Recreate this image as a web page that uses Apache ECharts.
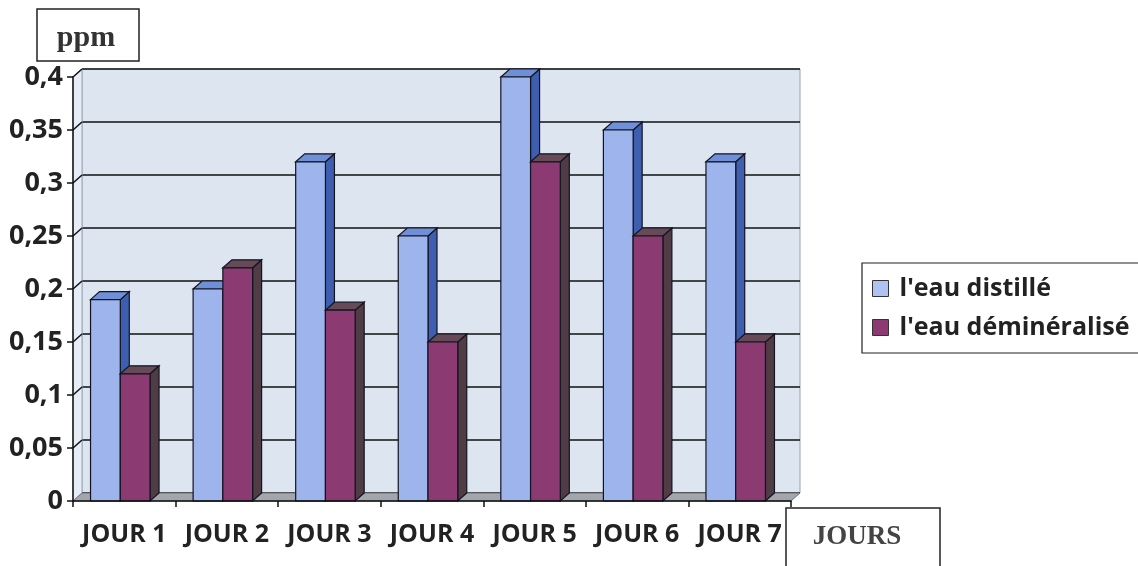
<!DOCTYPE html>
<html>
<head>
<meta charset="utf-8">
<script src="https://cdn.jsdelivr.net/npm/echarts@6/dist/echarts.min.js"></script>
<style>
  html, body { margin: 0; padding: 0; background: #ffffff; }
  #chart { width: 1138px; height: 566px; }
</style>
</head>
<body>
<div id="chart"></div>
<script>
// Daily readings (ppm)
const categories = ['JOUR 1', 'JOUR 2', 'JOUR 3', 'JOUR 4', 'JOUR 5', 'JOUR 6', 'JOUR 7'];
const distille = [0.19, 0.20, 0.32, 0.25, 0.40, 0.35, 0.32];
const demineralise = [0.12, 0.22, 0.18, 0.15, 0.32, 0.25, 0.15];
const seriesNames = ["l'eau distillé", "l'eau déminéralisé"];
const yTicks = [0, 0.05, 0.1, 0.15, 0.2, 0.25, 0.3, 0.35, 0.4];

// depth offset of the pseudo-3D box
const DX = 9, DY = -8;

const palette = [
  { front: '#9db5ec', side: '#3e5fb0', top: '#6f8fd8' },
  { front: '#8b3a72', side: '#4f3c45', top: '#674a57' }
];

const LABEL_FONT = { fontFamily: 'Open Sans', fontWeight: 'bold', fontSize: 25, color: '#222' };

function barRenderer(sIdx) {
  return function (params, api) {
    const cat = api.value(0), v = api.value(1);
    const base = api.coord([cat, 0]);
    const top = api.coord([cat, v]);
    const bw = api.size([1, 0])[0] * 0.29;
    const x0 = sIdx === 0 ? base[0] - bw - 4 : base[0] - 4;
    const x1 = x0 + bw;
    const yT = top[1], yB = base[1];
    const c = palette[sIdx];
    const stroke = { stroke: '#141420', lineWidth: 1.2 };
    return {
      type: 'group',
      children: [
        { type: 'polygon', shape: { points: [[x1, yT], [x1 + DX, yT + DY], [x1 + DX, yB + DY], [x1, yB]] },
          style: Object.assign({ fill: c.side }, stroke) },
        { type: 'polygon', shape: { points: [[x0, yT], [x0 + DX, yT + DY], [x1 + DX, yT + DY], [x1, yT]] },
          style: Object.assign({ fill: c.top }, stroke) },
        { type: 'rect', shape: { x: x0, y: yT, width: bw, height: yB - yT },
          style: Object.assign({ fill: c.front }, stroke) }
      ]
    };
  };
}

// floor and left side wall of the box
function boxRenderer(params, api) {
  const cs = params.coordSys;
  const xl = cs.x, xr = cs.x + cs.width, yb = cs.y + cs.height, yt = cs.y;
  const children = [
    { type: 'polygon', shape: { points: [[xl, yb], [xl, yt], [xl + DX, yt + DY], [xl + DX, yb + DY]] },
      style: { fill: '#e6edf6', stroke: '#9aa6b8', lineWidth: 1 } },
    { type: 'polygon', shape: { points: [[xl, yb], [xl + DX, yb + DY], [xr + DX, yb + DY], [xr, yb]] },
      style: { fill: '#a3a7ad', stroke: '#6f747a', lineWidth: 1 } }
  ];
  yTicks.forEach(function (t) {
    if (t === 0) return;
    const p = api.coord([0, t]);
    children.push({ type: 'line', shape: { x1: xl, y1: p[1], x2: xl + DX, y2: p[1] + DY },
      style: { stroke: '#111', lineWidth: 1.5 } });
  });
  return { type: 'group', children: children };
}

const chart = echarts.init(document.getElementById('chart'));
chart.setOption({
  animation: false,
  backgroundColor: '#ffffff',
  grid: [
    { left: 73, right: 347, top: 77, bottom: 65 },
    { left: 82, right: 338, top: 69, bottom: 73, show: true,
      backgroundColor: '#dce5f0', borderColor: '#98a3b4', borderWidth: 1, z: 0 }
  ],
  xAxis: [
    { type: 'category', gridIndex: 0, data: categories,
      axisLine: { lineStyle: { color: '#111', width: 1.5 } },
      axisTick: { show: true, length: 6, lineStyle: { color: '#111', width: 1.5 } },
      axisLabel: Object.assign({ margin: 21, interval: 0 }, LABEL_FONT),
      splitLine: { show: false }, z: 5 },
    { type: 'category', gridIndex: 1, data: categories, show: false }
  ],
  yAxis: [
    { type: 'value', gridIndex: 0, min: 0, max: 0.4, interval: 0.05,
      axisLine: { show: true, lineStyle: { color: '#111', width: 1.5 } },
      axisTick: { show: true, length: 6, lineStyle: { color: '#111', width: 1.5 } },
      axisLabel: Object.assign({ margin: 10, formatter: function (v) { return String(+v.toFixed(2)).replace('.', ','); } }, LABEL_FONT, { fontSize: 27 }),
      splitLine: { show: false }, z: 5 },
    { type: 'value', gridIndex: 1, min: 0, max: 0.4, interval: 0.05,
      axisLine: { show: false }, axisTick: { show: false }, axisLabel: { show: false },
      splitLine: { show: true, lineStyle: { color: '#111', width: 1.5 } } }
  ],
  legend: {
    orient: 'vertical', left: 862, top: 263,
    borderColor: '#222', borderWidth: 1.2, padding: [13, 14, 13, 10],
    itemWidth: 16, itemHeight: 16, itemGap: 14,
    textStyle: { fontFamily: 'Open Sans', fontWeight: 'bold', fontSize: 25, color: '#222', padding: [0, 0, 0, 6] },
    data: [
      { name: seriesNames[0], icon: 'rect', itemStyle: { color: '#aec3f2', borderColor: '#333', borderWidth: 1 } },
      { name: seriesNames[1], icon: 'rect', itemStyle: { color: '#8e3a72', borderColor: '#333', borderWidth: 1 } }
    ]
  },
  graphic: [
    { type: 'rect', shape: { x: 37, y: 9, width: 102, height: 52 },
      style: { fill: '#fff', stroke: '#222', lineWidth: 1.5 } },
    { type: 'text', x: 86, y: 38,
      style: { text: 'ppm', fontFamily: 'Liberation Serif', fontWeight: 'bold', fontSize: 30,
        fill: '#333', align: 'center', verticalAlign: 'middle' } },
    { type: 'rect', shape: { x: 786, y: 508, width: 154, height: 80 },
      style: { fill: '#fff', stroke: '#222', lineWidth: 1.5 } },
    { type: 'text', x: 857, y: 537,
      style: { text: 'JOURS', fontFamily: 'Liberation Serif', fontWeight: 'bold', fontSize: 27,
        fill: '#444', align: 'center', verticalAlign: 'middle' } }
  ],
  series: [
    { type: 'custom', name: 'box', xAxisIndex: 0, yAxisIndex: 0, data: [[0, 0]],
      renderItem: boxRenderer, silent: true, z: 1 },
    { type: 'custom', name: seriesNames[0], xAxisIndex: 0, yAxisIndex: 0,
      itemStyle: { color: '#aec3f2' },
      data: distille.map(function (v, i) { return [i, v]; }),
      encode: { x: 0, y: 1 }, renderItem: barRenderer(0), z: 2 },
    { type: 'custom', name: seriesNames[1], xAxisIndex: 0, yAxisIndex: 0,
      itemStyle: { color: '#8e3a72' },
      data: demineralise.map(function (v, i) { return [i, v]; }),
      encode: { x: 0, y: 1 }, renderItem: barRenderer(1), z: 3 }
  ]
});
</script>
</body>
</html>
